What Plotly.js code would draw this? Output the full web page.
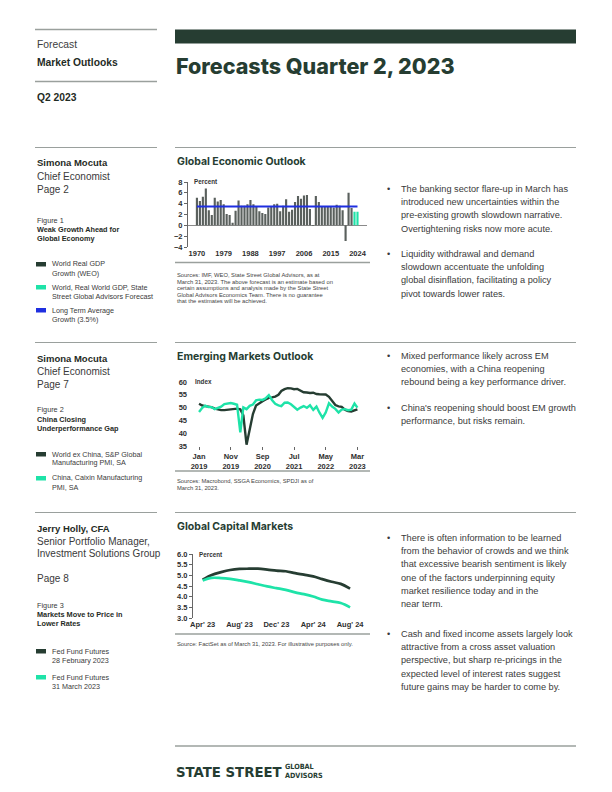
<!DOCTYPE html>
<html>
<head>
<meta charset="utf-8">
<script src="https://cdn.plot.ly/plotly-3.0.1.min.js"></script>
<style>html,body{margin:0;padding:0;background:#fff;}#page{width:612px;height:792px;}</style>
</head>
<body>
<div id="page"></div>
<script>
// ---------- DATA ----------
const gdpYears = [1970,1971,1972,1973,1974,1975,1976,1977,1978,1979,1980,1981,1982,1983,1984,1985,1986,1987,1988,1989,1990,1991,1992,1993,1994,1995,1996,1997,1998,1999,2000,2001,2002,2003,2004,2005,2006,2007,2008,2009,2010,2011,2012,2013,2014,2015,2016,2017,2018,2019,2020,2021,2022];
const gdpWEO = [5.1,4.5,5.3,6.8,2.8,1.9,5.1,4.4,4.7,3.9,2.1,1.9,0.5,2.7,4.6,3.6,3.6,3.9,4.7,3.9,3.4,2.6,2.3,2.1,3.3,3.4,3.9,4.0,2.6,3.6,4.8,2.5,2.9,4.3,5.4,4.9,5.5,5.6,3.0,-0.1,5.4,4.3,3.5,3.4,3.5,3.4,3.3,3.8,3.6,2.8,-2.9,6.0,3.2];
const forecastYears = [2023,2024];
const gdpForecast = [2.5,2.5];
const ltaYears = [1970,2024];
const ltaGrowth = [3.5,3.5];
const gdpTickYears = [1970,1979,1988,1997,2006,2015,2024];

const pmiMonths = ['2019-01-01','2019-02-01','2019-03-01','2019-04-01','2019-05-01','2019-06-01','2019-07-01','2019-08-01','2019-09-01','2019-10-01','2019-11-01','2019-12-01',
 '2020-01-01','2020-02-01','2020-03-01','2020-04-01','2020-05-01','2020-06-01','2020-07-01','2020-08-01','2020-09-01','2020-10-01','2020-11-01','2020-12-01',
 '2021-01-01','2021-02-01','2021-03-01','2021-04-01','2021-05-01','2021-06-01','2021-07-01','2021-08-01','2021-09-01','2021-10-01','2021-11-01','2021-12-01',
 '2022-01-01','2022-02-01','2022-03-01','2022-04-01','2022-05-01','2022-06-01','2022-07-01','2022-08-01','2022-09-01','2022-10-01','2022-11-01','2022-12-01',
 '2023-01-01','2023-02-01','2023-03-01'];
const pmiWorldExChina = [51.5,50.8,50.6,50.5,50.2,49.6,49.3,49.0,49.0,49.1,49.4,49.5,
 49.6,49.3,47.0,35.5,41.5,47.5,50.8,51.8,52.5,53.2,53.8,54.0,
 54.3,55.0,56.5,57.2,57.6,57.5,57.2,57.3,56.6,56.0,55.9,55.7,
 55.8,55.3,55.2,55.2,55.1,54.2,52.4,51.0,50.5,50.3,49.2,48.6,
 48.5,49.0,49.3];
const pmiChinaCaixin = [48.3,49.9,50.8,50.2,50.2,49.4,49.9,50.4,51.4,51.7,51.8,51.5,
 51.1,40.3,50.1,49.4,50.7,51.2,52.8,53.1,53.0,53.6,54.9,53.0,
 51.5,50.9,50.6,51.9,52.0,51.3,50.3,49.2,50.0,50.6,49.9,50.9,
 49.1,50.4,48.1,46.0,48.1,51.7,50.4,49.5,48.1,49.2,49.4,49.0,
 49.2,51.6,50.0];
const pmiTickVals = ['2019-01-01','2019-11-01','2020-09-01','2021-07-01','2022-05-01','2023-03-01'];
const pmiTickText = ['Jan<br>2019','Nov<br>2019','Sep<br>2020','Jul<br>2021','May<br>2022','Mar<br>2023'];

const fedMonths = ['2023-04-01','2023-05-01','2023-06-01','2023-07-01','2023-08-01','2023-09-01','2023-10-01','2023-11-01','2023-12-01','2024-01-01','2024-02-01','2024-03-01','2024-04-01','2024-05-01','2024-06-01','2024-07-01','2024-08-01'];
const fedFeb28 = [4.80,5.02,5.15,5.25,5.30,5.31,5.31,5.27,5.22,5.19,5.10,5.03,4.95,4.82,4.70,4.60,4.38];
const fedMar31 = [4.76,4.88,4.87,4.83,4.76,4.68,4.58,4.48,4.40,4.32,4.20,4.12,4.01,3.86,3.78,3.70,3.50];
const fedTickVals = ['2023-04-01','2023-08-01','2023-12-01','2024-04-01','2024-08-01'];
const fedTickText = ["Apr' 23","Aug' 23","Dec' 23","Apr' 24","Aug' 24"];

// ---------- STYLE ----------
const W = 612, H = 792;
const DG = '#263d32', TEAL = '#1ee3a8', BLUE = '#1f2fe0', RULE = '#9aa09d', BODY = '#3a3a3a';
const SANS = 'Liberation Sans, Arial, sans-serif';
const HEAD = 'Inter, Liberation Sans, sans-serif';
const NARROW = 'Liberation Sans Narrow, DejaVu Sans Condensed, sans-serif';
const X = px => px / W;
const Y = py => 1 - py / H;

const ann = [];
const shapes = [];
function t(x, y, text, size, o) {
  o = o || {};
  ann.push({xref:'paper', yref:'paper', x:X(x), y:Y(y), xanchor:o.xa||'left', yanchor:'middle',
    text:text, showarrow:false, align:'left',
    font:{family:o.family||SANS, size:size, color:o.color||BODY, weight:o.weight||'normal'}});
}
function lines(x, y0, dy, arr, size, o) { arr.forEach((s, i) => t(x, y0 + i*dy, s, size, o)); }
function hline(x0, x1, y, color, w) {
  shapes.push({type:'line', xref:'paper', yref:'paper', x0:X(x0), x1:X(x1), y0:Y(y), y1:Y(y), line:{color:color||RULE, width:w||1}});
}
function rect(x0, x1, y0, y1, color) {
  shapes.push({type:'rect', xref:'paper', yref:'paper', x0:X(x0), x1:X(x1), y0:Y(y1), y1:Y(y0), fillcolor:color, line:{width:0}});
}
function bullets(y0, arr) {
  t(385, y0, '•', 9.2, {color:BODY});
  lines(399, y0, 13.2, arr, 9.2, {color:BODY});
}

// ---------- HEADER ----------
hline(35, 157, 29.5, RULE, 1.3);
t(35, 45, 'Forecast', 10.3, {color:'#3d3d3d'});
t(35, 62, 'Market Outlooks', 10.3, {weight:'bold', color:'#1f2b25'});
hline(35, 157, 81.5, RULE, 1.3);
t(35, 98, 'Q2 2023', 10.3, {weight:'bold', color:'#1f2b25'});
rect(175, 576, 29.5, 43.5, DG);
t(174, 66, 'Forecasts Quarter 2, 2023', 21.5, {family:HEAD, weight:800, color:DG});

// ---------- SECTION 1 ----------
hline(35, 157, 147.5); hline(175, 576, 147.5);
t(35, 163, 'Simona Mocuta', 9.5, {weight:'bold', color:'#1f2b25'});
t(35, 176, 'Chief Economist', 10);
t(35, 189, 'Page 2', 10);
t(35, 220, 'Figure 1', 7.3);
lines(35, 229, 9, ['Weak Growth Ahead for','Global Economy'], 7.3, {weight:'bold', color:'#1f2b25'});
rect(36, 46, 262, 266.5, DG); lines(50, 264, 9, ['World Real GDP','Growth (WEO)'], 7.2);
rect(36, 46, 285, 289.5, TEAL); lines(50, 287, 9, ['World, Real World GDP, State','Street Global Advisors Forecast'], 7.2);
rect(36, 46, 308, 312.5, BLUE); lines(50, 310, 9, ['Long Term Average','Growth (3.5%)'], 7.2);
t(175, 161, 'Global Economic Outlook', 10.5, {family:HEAD, weight:700, color:DG});
t(192, 182, 'Percent', 6.3, {weight:'bold', color:'#333'});
hline(175, 370, 262.5, RULE, 1.3);
lines(175, 275, 6.6, ['Sources: IMF, WEO, State Street Global Advisors, as at',
  'March 31, 2023. The above forecast is an estimate based on',
  'certain assumptions and analysis made by the State Street',
  'Global Advisors Economics Team. There is no guarantee',
  'that the estimates will be achieved.'], 5.8, {color:'#444'});
bullets(189, ['The banking sector flare-up in March has','introduced new uncertainties within the','pre-existing growth slowdown narrative.','Overtightening risks now more acute.']);
bullets(254, ['Liquidity withdrawal and demand','slowdown accentuate the unfolding','global disinflation, facilitating a policy','pivot towards lower rates.']);

// ---------- SECTION 2 ----------
hline(35, 157, 342.5); hline(175, 576, 342.5);
t(35, 358, 'Simona Mocuta', 9.5, {weight:'bold', color:'#1f2b25'});
t(35, 371, 'Chief Economist', 10);
t(35, 384, 'Page 7', 10);
t(35, 410, 'Figure 2', 7.3);
lines(35, 419, 9, ['China Closing','Underperformance Gap'], 7.3, {weight:'bold', color:'#1f2b25'});
rect(36, 46, 452, 456.5, DG); lines(50, 454, 9, ['World ex China, S&P Global','Manufacturing PMI, SA'], 7.2);
rect(36, 46, 476, 480.5, TEAL); lines(50, 478, 9, ['China, Caixin Manufacturing','PMI, SA'], 7.2);
t(175, 356, 'Emerging Markets Outlook', 10.5, {family:HEAD, weight:700, color:DG});
t(193, 382, 'Index', 6.3, {weight:'bold', color:'#333'});
hline(175, 370, 471, RULE, 1.3);
lines(175, 481, 6.8, ['Sources: Macrobond, SSGA Economics, SPDJI as of','March 31, 2023.'], 5.8, {color:'#444'});
bullets(356, ['Mixed performance likely across EM','economies, with a China reopening','rebound being a key performance driver.']);
bullets(408, ["China's reopening should boost EM growth",'performance, but risks remain.']);

// ---------- SECTION 3 ----------
hline(35, 157, 512.5); hline(175, 576, 512.5);
t(35, 528, 'Jerry Holly, CFA', 9.5, {weight:'bold', color:'#1f2b25'});
t(35, 541, 'Senior Portfolio Manager,', 10);
t(35, 553, 'Investment Solutions Group', 10);
t(35, 578, 'Page 8', 10);
t(35, 605, 'Figure 3', 7.3);
lines(35, 614.5, 9, ['Markets Move to Price in','Lower Rates'], 7.3, {weight:'bold', color:'#1f2b25'});
rect(36, 46, 649, 653.5, DG); lines(50, 651, 9, ['Fed Fund Futures','28 February 2023'], 7.2);
rect(36, 46, 675, 679.5, TEAL); lines(50, 677, 9, ['Fed Fund Futures','31 March 2023'], 7.2);
t(175, 526, 'Global Capital Markets', 10.5, {family:HEAD, weight:700, color:DG});
t(197, 554, 'Percent', 6.3, {weight:'bold', color:'#333'});
hline(175, 370, 634, RULE, 1.3);
t(175, 644, 'Source: FactSet as of March 31, 2023. For illustrative purposes only.', 5.8, {color:'#444'});
bullets(538, ['There is often information to be learned','from the behavior of crowds and we think','that excessive bearish sentiment is likely','one of the factors underpinning equity','market resilience today and in the','near term.']);
bullets(634, ['Cash and fixed income assets largely look','attractive from a cross asset valuation','perspective, but sharp re-pricings in the','expected level of interest rates suggest','future gains may be harder to come by.']);

// ---------- FOOTER ----------
hline(175, 576, 746, RULE, 1.3);
t(174, 771, 'STATE STREET', 14.8, {family:NARROW, weight:'bold', color:DG});
t(283, 766, 'GLOBAL', 7.2, {family:NARROW, weight:'bold', color:DG});
t(283, 775, 'ADVISORS', 7.2, {family:NARROW, weight:'bold', color:DG});

// ---------- TRACES ----------
const tickFont = {family:SANS, size:7.5, color:'#2e2e2e', weight:'bold'};
const traces = [
  {type:'bar', x:gdpYears, y:gdpWEO, xaxis:'x', yaxis:'y', marker:{color:'#5a605d', line:{width:0}}, hoverinfo:'skip'},
  {type:'bar', x:forecastYears, y:gdpForecast, xaxis:'x', yaxis:'y', marker:{color:TEAL, line:{width:0}}, hoverinfo:'skip'},
  {type:'scatter', mode:'lines', x:ltaYears, y:ltaGrowth, xaxis:'x', yaxis:'y', line:{color:BLUE, width:2}, hoverinfo:'skip'},
  {type:'scatter', mode:'lines', x:pmiMonths, y:pmiWorldExChina, xaxis:'x2', yaxis:'y2', line:{color:DG, width:2.4}, hoverinfo:'skip'},
  {type:'scatter', mode:'lines', x:pmiMonths, y:pmiChinaCaixin, xaxis:'x2', yaxis:'y2', line:{color:TEAL, width:2.4}, hoverinfo:'skip'},
  {type:'scatter', mode:'lines', x:fedMonths, y:fedFeb28, xaxis:'x3', yaxis:'y3', line:{color:DG, width:2.7, shape:'spline'}, hoverinfo:'skip'},
  {type:'scatter', mode:'lines', x:fedMonths, y:fedMar31, xaxis:'x3', yaxis:'y3', line:{color:TEAL, width:2.7, shape:'spline'}, hoverinfo:'skip'}
];

const layout = {
  width:W, height:H, margin:{l:0, r:0, t:0, b:0}, paper_bgcolor:'#fff', plot_bgcolor:'rgba(0,0,0,0)',
  showlegend:false, barmode:'overlay', bargap:0.28,
  font:{family:SANS, color:BODY},
  xaxis:{domain:[X(188), X(367.3)], range:[1967, 2027.3], anchor:'y', tickvals:gdpTickYears, ticktext:gdpTickYears.map(String),
    showgrid:false, zeroline:false, showline:false, ticks:'', tickfont:tickFont, fixedrange:true},
  yaxis:{domain:[Y(247), Y(182)], range:[-4, 8], anchor:'x', dtick:2, showgrid:false, zeroline:true, zerolinecolor:'#8a8a8a', zerolinewidth:1,
    showline:true, linecolor:'#666', linewidth:1, ticks:'outside', ticklen:3, tickcolor:'#666', tickfont:tickFont, fixedrange:true},
  xaxis2:{domain:[X(188), X(367)], range:['2018-09-17','2023-06-01'], type:'date', anchor:'y2', tickvals:pmiTickVals, ticktext:pmiTickText,
    showgrid:false, zeroline:false, showline:false, ticks:'outside', ticklen:3, tickcolor:'#666', tickfont:tickFont, fixedrange:true},
  yaxis2:{domain:[Y(446), Y(382)], range:[35, 60], anchor:'x2', dtick:5, showgrid:false, zeroline:false, showline:false, ticks:'',
    tickfont:tickFont, fixedrange:true},
  xaxis3:{domain:[X(193), X(367)], range:['2023-02-28','2024-09-26'], type:'date', anchor:'y3', tickvals:fedTickVals, ticktext:fedTickText,
    showgrid:false, zeroline:false, showline:false, ticks:'', tickfont:tickFont, fixedrange:true},
  yaxis3:{domain:[Y(618), Y(554)], range:[3, 6], anchor:'x3', dtick:0.5, tickformat:'.1f', showgrid:false, zeroline:false,
    showline:true, linecolor:'#666', linewidth:1, ticks:'outside', ticklen:3, tickcolor:'#666', tickfont:tickFont, fixedrange:true},
  annotations:ann, shapes:shapes
};

Plotly.newPlot('page', traces, layout, {displayModeBar:false, staticPlot:true});
</script>
</body>
</html>
